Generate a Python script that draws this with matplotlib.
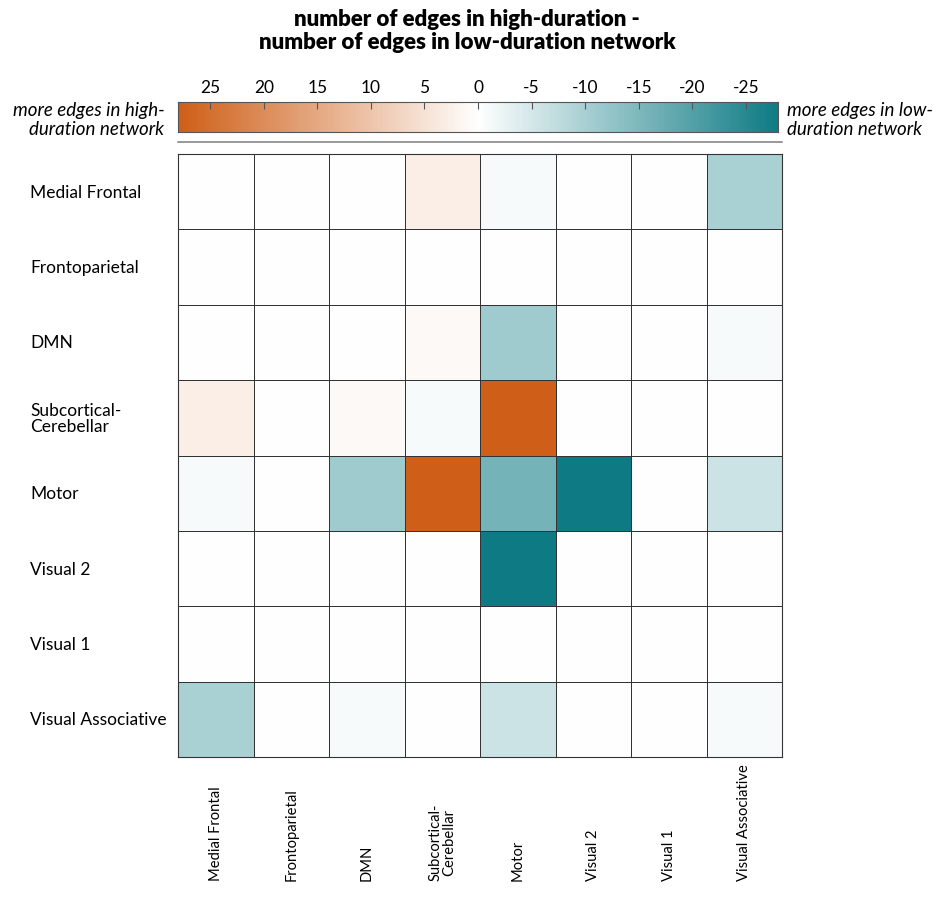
"""
    Heatmap of edge count differences between high- and low-duration networks
"""
import numpy as np
import matplotlib
matplotlib.use("Agg")
import matplotlib.pyplot as plt
from matplotlib.colors import LinearSegmentedColormap, Normalize

plt.rcParams["font.family"] = ["Lato", "DejaVu Sans"]

networks = ["Medial Frontal", "Frontoparietal", "DMN", "Subcortical-\nCerebellar",
            "Motor", "Visual 2", "Visual 1", "Visual Associative"]

# Row = network, column = network (high-duration minus low-duration edges)
diff_medial_frontal = [0, 0, 0, 3, -1, 0, 0, -10]
diff_frontoparietal = [0, 0, 0, 0, 0, 0, 0, 0]
diff_dmn = [0, 0, 0, 1, -11, 0, 0, -1]
diff_subcortical = [3, 0, 1, -1, 28, 0, 0, 0]
diff_motor = [-1, 0, -11, 28, -16, -28, 0, -6]
diff_visual2 = [0, 0, 0, 0, -28, 0, 0, 0]
diff_visual1 = [0, 0, 0, 0, 0, 0, 0, 0]
diff_visual_assoc = [-10, 0, -1, 0, -6, 0, 0, -1]

cbar_ticks = [25, 20, 15, 10, 5, 0, -5, -10, -15, -20, -25]
value_limit = 28


def main():
    """
        Draws the matrix with its colour bar and saves it
    """
    matrix = np.array([diff_medial_frontal, diff_frontoparietal, diff_dmn,
                       diff_subcortical, diff_motor, diff_visual2,
                       diff_visual1, diff_visual_assoc])

    cmap = LinearSegmentedColormap.from_list(
        "duration", ["#0E7B84", "#FFFFFF", "#CF5F18"])
    norm = Normalize(vmin=-value_limit, vmax=value_limit)

    fig = plt.figure(figsize=(9.44, 9.04), dpi=100)

    # Matrix
    ax = fig.add_axes([0.1886, 0.1615, 0.6398, 0.667])
    n = len(networks)
    ax.pcolormesh(np.arange(n + 1), np.arange(n + 1), matrix, cmap=cmap, norm=norm,
                  edgecolors="#333333", linewidth=0.6)
    ax.set_xlim(0, n)
    ax.set_ylim(n, 0)
    for spine in ax.spines.values():
        spine.set_color("#333333")
        spine.set_linewidth(0.8)
    ax.set_xticks([])
    ax.set_yticks([])

    for i, name in enumerate(networks):
        ax.text(-1.96, i + 0.5, name, ha="left", va="center", fontsize=12.5,
                linespacing=1.05)
        ax.text(i + 0.5, n + 1.63, name, ha="center", va="bottom", rotation=90,
                fontsize=10.6, linespacing=1.0)

    # Colour bar
    cax = fig.add_axes([0.1886, 0.8529, 0.6356, 0.0332])
    gradient = np.linspace(-value_limit, value_limit, 512).reshape(1, -1)
    cax.imshow(gradient, aspect="auto", cmap=cmap, norm=norm,
               extent=[-value_limit, value_limit, 0, 1])
    cax.set_xlim(value_limit, -value_limit)
    cax.set_yticks([])
    cax.xaxis.tick_top()
    cax.set_xticks(cbar_ticks)
    cax.set_xticklabels([str(t) for t in cbar_ticks], fontsize=12.5)
    cax.tick_params(axis="x", direction="in", length=5, width=0.8,
                    colors="#555555", labelcolor="black", pad=5)
    for spine in cax.spines.values():
        spine.set_color("#555555")
        spine.set_linewidth(0.8)

    fig.text(0.174, 0.867, "more edges in high-\nduration network", ha="right",
             va="center", style="italic", fontsize=13.5, linespacing=1.15)
    fig.text(0.834, 0.867, "more edges in low-\nduration network", ha="left",
             va="center", style="italic", fontsize=13.5, linespacing=1.15)

    # Separator under the colour bar
    fig.add_artist(plt.Line2D([0.1886, 0.8284], [0.8415, 0.8415],
                              color="#888888", linewidth=1.2))

    fig.text(0.495, 0.966, "number of edges in high-duration -\n"
             "number of edges in low-duration network",
             ha="center", va="center", fontsize=16, fontweight="heavy",
             linespacing=1.1)

    fig.savefig("out.png", dpi=100)


if __name__ == "__main__":
    main()
